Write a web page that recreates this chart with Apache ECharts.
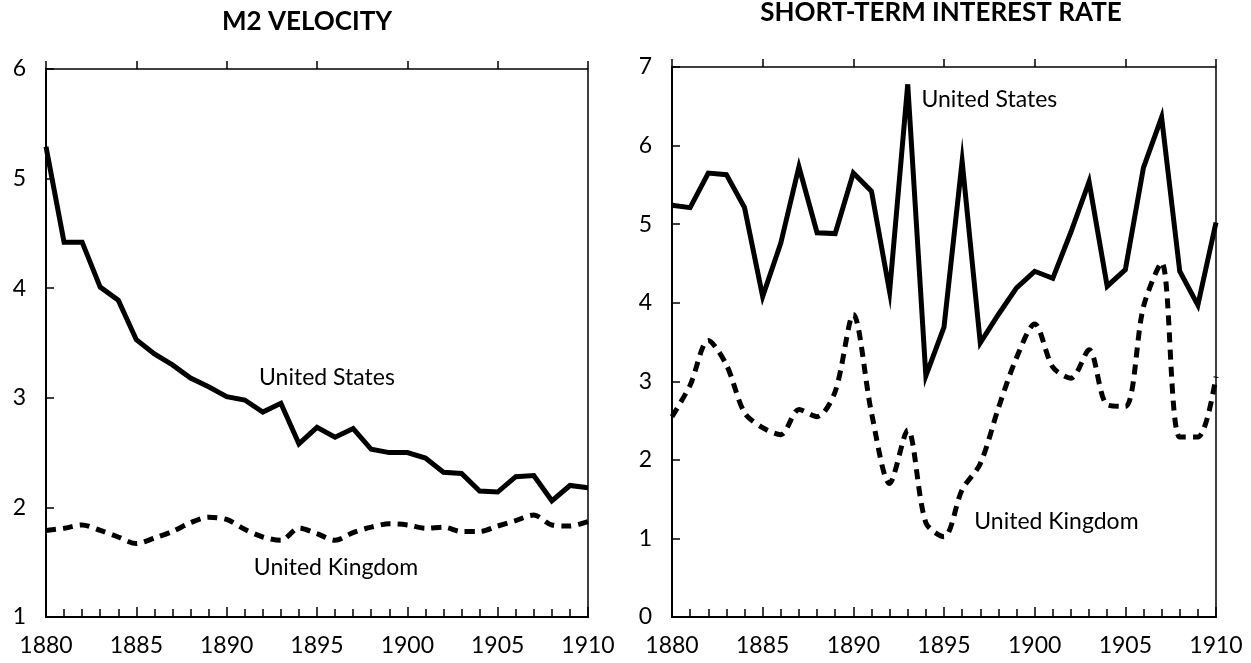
<!DOCTYPE html>
<html>
	<head>
		<meta charset="utf-8">
		<title>M2 velocity and short-term interest rate</title>
		<script src="https://cdn.jsdelivr.net/npm/echarts@6/dist/echarts.min.js"></script>
	</head>
	<body style="margin:0;background:#fff;">
		<div id="main" style="width:1251px;height:663px;"></div>
		<script type="text/javascript">
			var years = [1880, 1881, 1882, 1883, 1884, 1885, 1886, 1887, 1888, 1889, 1890,
				1891, 1892, 1893, 1894, 1895, 1896, 1897, 1898, 1899, 1900,
				1901, 1902, 1903, 1904, 1905, 1906, 1907, 1908, 1909, 1910];
			// M2 velocity
			var usVelocity = [5.29, 4.42, 4.42, 4.01, 3.89, 3.53, 3.40, 3.30, 3.18, 3.10, 3.01,
				2.98, 2.87, 2.95, 2.58, 2.73, 2.64, 2.72, 2.53, 2.50, 2.50,
				2.45, 2.32, 2.31, 2.15, 2.14, 2.28, 2.29, 2.06, 2.20, 2.18];
			var ukVelocity = [1.79, 1.81, 1.84, 1.79, 1.73, 1.67, 1.72, 1.78, 1.86, 1.91, 1.89,
				1.80, 1.73, 1.70, 1.81, 1.76, 1.70, 1.77, 1.82, 1.85, 1.84,
				1.81, 1.82, 1.78, 1.78, 1.83, 1.88, 1.93, 1.84, 1.83, 1.87];
			// short-term interest rate
			var usRate = [5.24, 5.21, 5.65, 5.63, 5.21, 4.08, 4.76, 5.73, 4.89, 4.88, 5.65,
				5.42, 4.14, 6.78, 3.07, 3.69, 5.80, 3.49, 3.85, 4.19, 4.40,
				4.31, 4.90, 5.54, 4.21, 4.42, 5.72, 6.36, 4.40, 3.97, 5.02];
			var ukRate = [2.55, 2.95, 3.52, 3.21, 2.60, 2.41, 2.32, 2.64, 2.55, 2.87, 3.85,
				2.60, 1.70, 2.38, 1.20, 1.02, 1.62, 1.95, 2.66, 3.30, 3.73,
				3.18, 3.04, 3.40, 2.70, 2.68, 3.95, 4.51, 2.29, 2.29, 3.06];
			// label anchors (in data units)
			var labelsLeft = [
				{ name: 'United States', coord: [1895.55, 3.18] },
				{ name: 'United Kingdom', coord: [1896.05, 1.45] }
			];
			var labelsRight = [
				{ name: 'United States', coord: [1897.5, 6.58] },
				{ name: 'United Kingdom', coord: [1901.2, 1.22] }
			];

			var font = 'Lato, "Open Sans", sans-serif';
			var pairs = function (ys) {
				return years.map(function (y, i) { return [y, ys[i]]; });
			};

			function xAxes(gi) {
				return [{
					type: 'value', gridIndex: gi, min: 1880, max: 1910, interval: 5,
					axisLine: { lineStyle: { color: '#000', width: 2 } },
					axisTick: { inside: true, length: 10, lineStyle: { color: '#000', width: 1.5 } },
					minorTick: { show: true, splitNumber: 5, length: 8, lineStyle: { color: '#000', width: 1.5 } },
					axisLabel: {
						color: '#000', fontSize: 23, fontFamily: font, margin: 17,
						formatter: function (v) { return String(v); }
					},
					splitLine: { show: false }
				}, {
					type: 'value', gridIndex: gi, min: 1880, max: 1910, interval: 5,
					axisLine: { show: false },
					axisTick: { inside: false, length: 8, lineStyle: { color: '#000', width: 1.5 } },
					axisLabel: { show: false },
					splitLine: { show: false }
				}];
			}

			function yAxis(gi, min, max) {
				return {
					type: 'value', gridIndex: gi, min: min, max: max, interval: 1,
					axisLine: { show: true, lineStyle: { color: '#000', width: 2 } },
					axisTick: { show: true, inside: true, length: 8, lineStyle: { color: '#000', width: 1.5 } },
					axisLabel: { color: '#000', fontSize: 23, fontFamily: font, margin: 20 },
					splitLine: { show: false }
				};
			}

			function markLabels(list) {
				return {
					symbol: 'circle', symbolSize: 1,
					itemStyle: { color: 'rgba(0,0,0,0)' },
					label: { show: true, position: 'inside', formatter: '{b}', color: '#000', fontSize: 23, fontFamily: font },
					data: list
				};
			}

			function solid(xi, yi, data, labels) {
				return {
					type: 'line', xAxisIndex: xi, yAxisIndex: yi, data: pairs(data),
					showSymbol: false, silent: true,
					lineStyle: { color: '#000', width: 5, join: 'miter' },
					markPoint: markLabels(labels)
				};
			}
			function dashed(xi, yi, data) {
				return {
					type: 'line', xAxisIndex: xi, yAxisIndex: yi, data: pairs(data),
					showSymbol: false, silent: true, smooth: 0.3,
					lineStyle: { color: '#000', width: 5, type: [10, 7] }
				};
			}

			var myChart = echarts.init(document.getElementById('main'));
			var option = {
				backgroundColor: '#fff',
				animation: false,
				graphic: [
					{ type: 'text', x: 307, y: 9, style: { text: 'M2 VELOCITY', textAlign: 'center', fill: '#000', font: 'bold 26px ' + font } },
					{ type: 'text', x: 941, y: 0, style: { text: 'SHORT-TERM INTEREST RATE', textAlign: 'center', fill: '#000', font: 'bold 26px ' + font } }
				],
				grid: [
					{ left: 46, top: 69, width: 542, height: 548, show: true, borderColor: '#000', borderWidth: 1.5 },
					{ left: 672, top: 67, width: 544, height: 550, show: true, borderColor: '#000', borderWidth: 1.5 }
				],
				xAxis: xAxes(0).concat(xAxes(1)),
				yAxis: [yAxis(0, 1, 6), yAxis(1, 0, 7)],
				series: [
					solid(0, 0, usVelocity, labelsLeft),
					dashed(0, 0, ukVelocity),
					solid(2, 1, usRate, labelsRight),
					dashed(2, 1, ukRate)
				]
			};
			myChart.setOption(option);
		</script>
	</body>
</html>
